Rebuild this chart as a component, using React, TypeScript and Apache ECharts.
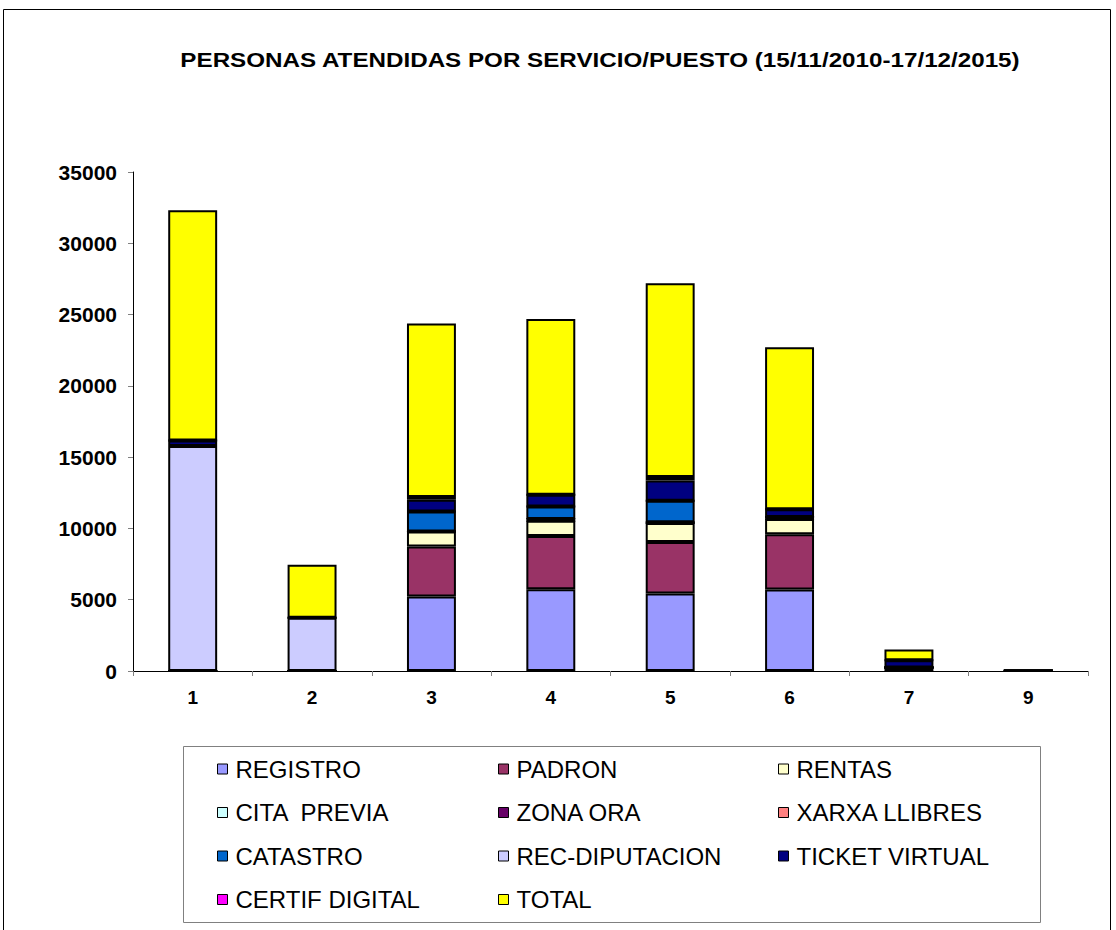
import React, { useEffect, useRef } from "react";
import * as echarts from "echarts";

const categories = ["1", "2", "3", "4", "5", "6", "7", "9"];
const registro = [0, 0, 5230, 5730, 5430, 5710, 250, 20];
const padron = [0, 0, 3500, 3740, 3620, 3880, 0, 0];
const rentas = [0, 0, 1060, 1070, 1330, 1070, 0, 0];
const citaPrevia = [0, 0, 0, 0, 0, 0, 0, 0];
const zonaOra = [0, 0, 0, 120, 60, 140, 0, 0];
const xarxaLlibres = [0, 0, 0, 0, 0, 0, 0, 0];
const catastro = [0, 0, 1400, 870, 1510, 0, 0, 0];
const recDiputacion = [15780, 3730, 0, 0, 0, 0, 0, 0];
const ticketVirtual = [380, 0, 820, 830, 1420, 540, 500, 0];
const certifDigital = [0, 0, 190, 0, 230, 0, 0, 0];
const total = [16160, 3730, 12180, 12330, 13600, 11370, 760, 20];

const seriesNames = [
  "REGISTRO", "PADRON", "RENTAS", "CITA  PREVIA", "ZONA ORA", "XARXA LLIBRES",
  "CATASTRO", "REC-DIPUTACION", "TICKET VIRTUAL", "CERTIF DIGITAL", "TOTAL",
];
const seriesValues = [
  registro, padron, rentas, citaPrevia, zonaOra, xarxaLlibres,
  catastro, recDiputacion, ticketVirtual, certifDigital, total,
];
const seriesColors = [
  "#9999FF", "#993366", "#FFFFCC", "#CCFFFF", "#660066", "#FF8080",
  "#0066CC", "#CCCCFF", "#000080", "#FF00FF", "#FFFF00",
];
const titleText = "PERSONAS ATENDIDAS POR SERVICIO/PUESTO (15/11/2010-17/12/2015)";

const FONT = "'Liberation Sans', Arial, sans-serif";

export default function App() {
  const ref = useRef<HTMLDivElement>(null);
  useEffect(() => {
    if (!ref.current) return;
    const chart = echarts.init(ref.current, null, { renderer: "svg" });
    const legendCols = [
      ["REGISTRO", "CITA  PREVIA", "CATASTRO", "CERTIF DIGITAL"],
      ["PADRON", "ZONA ORA", "REC-DIPUTACION", "TOTAL"],
      ["RENTAS", "XARXA LLIBRES", "TICKET VIRTUAL"],
    ];
    const legendLefts = [217, 498, 778];
    chart.setOption({
      animation: false,
      backgroundColor: "#fff",
      graphic: [
        {
          type: "rect",
          shape: { x: 3.5, y: 9.5, width: 1107, height: 930 },
          style: { fill: "none", stroke: "#000", lineWidth: 1 },
          silent: true,
        },
        {
          type: "rect",
          shape: { x: 183.5, y: 746.5, width: 857, height: 176 },
          style: { fill: "none", stroke: "#808080", lineWidth: 1 },
          silent: true,
        },
        {
          type: "text",
          x: 600,
          y: 60,
          scaleX: 1.21,
          style: {
            text: titleText,
            fontFamily: FONT,
            fontWeight: "bold",
            fontSize: 20,
            fill: "#000",
            align: "center",
            verticalAlign: "middle",
          },
        },
      ],
      legend: legendCols.map((col, i) => ({
        orient: "vertical",
        left: legendLefts[i],
        top: 757,
        padding: 0,
        data: col,
        itemWidth: 10,
        itemHeight: 10,
        itemGap: 19.5,
        icon: "rect",
        selectedMode: false,
        itemStyle: { borderColor: "#000", borderWidth: 1 },
        textStyle: {
          fontFamily: FONT,
          fontSize: 24,
          color: "#000",
          lineHeight: 24,
          padding: [0, 0, 0, 3],
        },
      })),
      grid: { left: 133, right: 28, top: 172, bottom: 259, containLabel: false },
      xAxis: {
        type: "category",
        data: categories,
        axisLine: { lineStyle: { color: "#000", width: 1 } },
        axisTick: { show: true, length: 5, lineStyle: { color: "#808080" } },
        axisLabel: {
          fontFamily: FONT,
          fontWeight: "bold",
          fontSize: 19,
          color: "#000",
          margin: 17,
        },
      },
      yAxis: {
        type: "value",
        min: 0,
        max: 35000,
        interval: 5000,
        splitLine: { show: false },
        axisLine: { show: true, lineStyle: { color: "#000", width: 1 } },
        axisTick: { show: true, length: 5, lineStyle: { color: "#808080" } },
        axisLabel: {
          fontFamily: FONT,
          fontWeight: "bold",
          fontSize: 21,
          color: "#000",
          margin: 16,
          formatter: (v: number) => String(v),
        },
      },
      series: seriesNames.map((name, i) => ({
        name,
        type: "bar",
        stack: "all",
        barWidth: "41%",
        data: seriesValues[i],
        itemStyle: { color: seriesColors[i], borderColor: "#000", borderWidth: 2 },
        emphasis: { disabled: true },
      })),
    });
    return () => chart.dispose();
  }, []);
  return (
    <div
      ref={ref}
      style={{ position: "absolute", left: 0, top: 0, width: 1116, height: 930 }}
    />
  );
}
